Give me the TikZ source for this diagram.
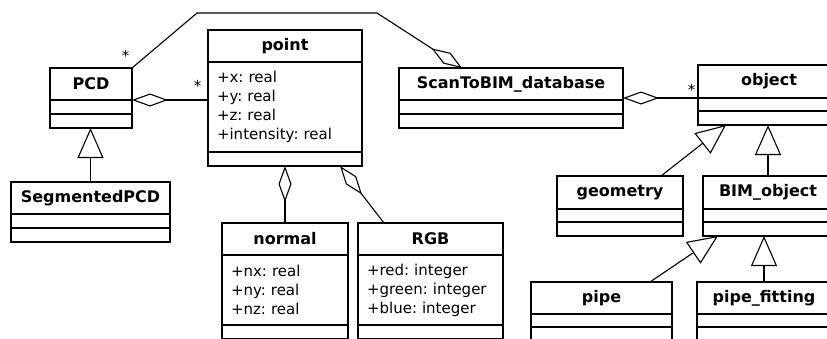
\documentclass[tikz,border=0pt]{standalone}
\usepackage{fontspec}
\setmainfont{DejaVu Sans}
\usetikzlibrary{positioning,arrows.meta,calc}
\frenchspacing

\begin{document}
\begin{tikzpicture}[x=1pt,y=-1pt,
  line width=1.1pt,
  font=\fontsize{15}{19}\selectfont,
  cls/.style={draw,anchor=north west,inner sep=0pt,outer sep=0pt,minimum height=32pt,
    font=\fontsize{16}{19}\selectfont\bfseries},
  comp/.style={draw,inner sep=0pt,outer sep=0pt,minimum height=14pt},
  attrs/.style={draw,inner xsep=9pt,inner ysep=0pt,outer sep=0pt,align=left},
  aggr/.style={-{Diamond[open,length=36pt,width=13pt]}},
  gen/.style={-{Triangle[open,length=30pt,width=26pt]}},
  mult/.style={inner sep=2pt}]
  \fill[white] (0,0) rectangle (827,338);
  \useasboundingbox (0,0) rectangle (827,338);
  \clip (0,0) rectangle (827,338);

  % point cloud side
  \node[cls,minimum width=82pt] (PCD) at (50,68) {PCD};
  \node[comp,minimum width=82pt,below=0pt of PCD] (PCD-a) {};
  \node[comp,minimum width=82pt,below=0pt of PCD-a] (PCD-o) {};

  \node[cls,minimum width=159pt] (seg) at (11,182) {SegmentedPCD};
  \node[comp,minimum width=159pt,below=0pt of seg] (seg-a) {};
  \node[comp,minimum width=159pt,below=0pt of seg-a] (seg-o) {};

  \node[cls,minimum width=154pt] (point) at (208,30) {point};
  \node[attrs,text width=136pt,minimum height=90pt,below=0pt of point] (point-a)
    {+x: real\\+y: real\\+z: real\\+intensity: real};
  \node[comp,minimum width=154pt,below=0pt of point-a] (point-o) {};

  \node[cls,minimum width=126pt] (normal) at (222,223) {normal};
  \node[attrs,text width=108pt,minimum height=70pt,below=0pt of normal] (normal-a)
    {+nx: real\\+ny: real\\+nz: real};
  \node[comp,minimum width=126pt,below=0pt of normal-a] (normal-o) {};

  \node[cls,minimum width=145pt] (rgb) at (358,223) {RGB};
  \node[attrs,text width=127pt,minimum height=70pt,below=0pt of rgb] (rgb-a)
    {+red: integer\\+green: integer\\+blue: integer};
  \node[comp,minimum width=145pt,below=0pt of rgb-a] (rgb-o) {};

  % database and BIM side
  \node[cls,minimum width=224pt] (scan) at (399,68) {ScanToBIM\_database};
  \node[comp,minimum width=224pt,below=0pt of scan] (scan-a) {};
  \node[comp,minimum width=224pt,below=0pt of scan-a] (scan-o) {};

  \node[cls,minimum width=142pt,minimum height=33pt] (object) at (698,65) {object};
  \node[comp,minimum width=142pt,minimum height=13pt,below=0pt of object] (object-a) {};
  \node[comp,minimum width=142pt,below=0pt of object-a] (object-o) {};

  \node[cls,minimum width=126pt,minimum height=33pt] (geom) at (557,176) {geometry};
  \node[comp,minimum width=126pt,minimum height=13pt,below=0pt of geom] (geom-a) {};
  \node[comp,minimum width=126pt,below=0pt of geom-a] (geom-o) {};

  \node[cls,minimum width=130pt,minimum height=33pt] (bim) at (703,176) {BIM\_object};
  \node[comp,minimum width=130pt,minimum height=13pt,below=0pt of bim] (bim-a) {};
  \node[comp,minimum width=130pt,below=0pt of bim-a] (bim-o) {};

  \node[cls,minimum width=141pt] (pipe) at (531,282) {pipe};
  \node[comp,minimum width=141pt,minimum height=13pt,below=0pt of pipe] (pipe-a) {};
  \node[comp,minimum width=141pt,below=0pt of pipe-a] (pipe-o) {};

  \node[cls,minimum width=134pt] (fitting) at (697,282) {pipe\_fitting};
  \node[comp,minimum width=134pt,minimum height=13pt,below=0pt of fitting] (fitting-a) {};
  \node[comp,minimum width=134pt,below=0pt of fitting-a] (fitting-o) {};

  % aggregations
  \draw[aggr] (point-a.west |- PCD.south east) node[mult,above left,xshift=-4pt,yshift=6pt] (m1) {*}
    -- (PCD.south east);
  \draw[aggr] (PCD.north east) node[mult,above left,yshift=4pt] (m2) {*}
    -- ++(65,-55) -- ++(180,0) -- ($(scan.north west)+(63,0)$);
  \draw[aggr] (object.south west) node[mult,above left] (m3) {*}
    -- (object.south west -| scan.east);
  \draw[aggr] (normal.north) -- (normal.north |- point-o.south);
  \draw[aggr] ($(rgb.north west)+(26,0)$) -- ($(point-o.south east)+(-22,0)$);

  % generalizations
  \draw[gen] (seg.north) -- (seg.north |- PCD-o.south);
  \draw[gen] ($(geom.north west)+(104,0)$) -- ($(object-o.south west)+(28,0)$);
  \draw[gen] (bim.north) -- (bim.north |- object-o.south);
  \draw[gen] ($(pipe.north west)+(119,0)$) -- ($(bim-o.south west)+(15,0)$);
  \draw[gen] (fitting.north) -- (fitting.north |- bim-o.south);
\end{tikzpicture}
\end{document}
